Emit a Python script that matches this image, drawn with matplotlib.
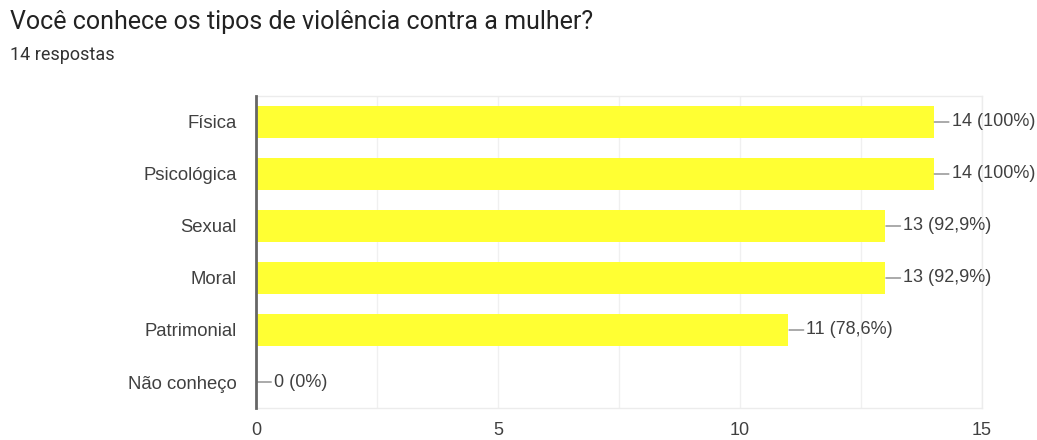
import matplotlib
matplotlib.use("Agg")
import matplotlib.pyplot as plt

plt.rcParams['font.family'] = ['Liberation Sans', 'DejaVu Sans']

title = "Você conhece os tipos de violência contra a mulher?"
subtitle = "14 respostas"
categories = ["Física", "Psicológica", "Sexual", "Moral", "Patrimonial", "Não conheço"]
counts = [14, 14, 13, 13, 11, 0]
labels = ["14 (100%)", "14 (100%)", "13 (92,9%)", "13 (92,9%)", "11 (78,6%)", "0 (0%)"]
xticks = [0, 5, 10, 15]

fig = plt.figure(figsize=(10.37, 4.4), dpi=100)
ax = fig.add_axes([256/1037, 1-408/440, (982-256)/1037, (408-96)/440])

y = list(range(len(categories)))
ax.barh(y, counts, height=0.62, color='#ffff33', zorder=2)
ax.set_ylim(len(categories)-0.5, -0.5)
ax.set_xlim(0, 15)
ax.set_yticks(y)
ax.set_yticklabels(categories, fontsize=13.3, color='#404040')
ax.set_xticks(xticks)
ax.set_xticklabels([str(t) for t in xticks], fontsize=13, color='#404040')
ax.set_xticks([2.5, 7.5, 12.5], minor=True)
ax.tick_params(axis='both', which='both', length=0)
ax.tick_params(axis='x', pad=10)
ax.tick_params(axis='y', pad=14)
ax.grid(axis='x', which='both', color='#f0f0f0', linewidth=1, zorder=0)
for s in ['top', 'right', 'bottom']:
    ax.spines[s].set_color('#ececec')
    ax.spines[s].set_linewidth(1)
ax.spines['left'].set_color('#666666')
ax.spines['left'].set_linewidth(2)
ax.spines['left'].set_zorder(3)

for yi, v, lab in zip(y, counts, labels):
    ax.annotate(lab, xy=(v, yi), xytext=(13, 0), textcoords='offset points',
                va='center', ha='left', fontsize=13, color='#404040',
                arrowprops=dict(arrowstyle='-', color='#888888', lw=1,
                                shrinkA=0, shrinkB=0.5),
                annotation_clip=False)

fig.text(10/1037, 1-22/440, title, fontsize=18, color='#222222', va='center', ha='left',
         family=['Roboto', 'DejaVu Sans'])
fig.text(10/1037, 1-55/440, subtitle, fontsize=13, color='#333333', va='center', ha='left',
         family=['Roboto', 'DejaVu Sans'])

fig.savefig('out.png', dpi=100)
